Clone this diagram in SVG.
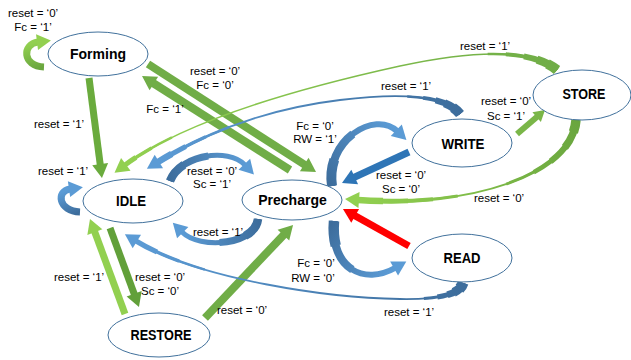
<svg xmlns="http://www.w3.org/2000/svg" width="631" height="360" viewBox="0 0 631 360">
<style>
.node ellipse{fill:#fff;stroke:#41719c;stroke-width:1}
.node text{font-family:"Liberation Sans",Arial,sans-serif;font-weight:bold;font-size:14px;text-anchor:middle;fill:#000}
.lbl{font-family:"Liberation Sans",Arial,sans-serif;font-size:11.5px;text-anchor:middle;fill:#000}
.ln{fill:none;stroke-linecap:butt}
</style>
<defs>
<marker id="mG" markerUnits="userSpaceOnUse" orient="auto" refX="0" refY="0" markerWidth="30" markerHeight="30" style="overflow:visible"><path d="M-1,-8 L13,0 L-1,8z" fill="#70ad47"/></marker>
<marker id="mGF" markerUnits="userSpaceOnUse" orient="auto" refX="0" refY="0" markerWidth="30" markerHeight="30" style="overflow:visible"><path d="M-1,-8 L13,0 L-1,8z" fill="#6aab3d"/></marker>
<marker id="mGL" markerUnits="userSpaceOnUse" orient="auto" refX="0" refY="0" markerWidth="30" markerHeight="30" style="overflow:visible"><path d="M-1,-8 L13,0 L-1,8z" fill="#92d050"/></marker>
<marker id="mGD" markerUnits="userSpaceOnUse" orient="auto" refX="0" refY="0" markerWidth="30" markerHeight="30" style="overflow:visible"><path d="M-1,-8 L13,0 L-1,8z" fill="#62a03a"/></marker>
<marker id="mGs" markerUnits="userSpaceOnUse" orient="auto" refX="0" refY="0" markerWidth="30" markerHeight="30" style="overflow:visible"><path d="M-1,-6.5 L10,0 L-1,6.5z" fill="#7ab648"/></marker>
<marker id="mBD" markerUnits="userSpaceOnUse" orient="auto" refX="0" refY="0" markerWidth="30" markerHeight="30" style="overflow:visible"><path d="M-1,-8 L13,0 L-1,8z" fill="#2e75b6"/></marker>
<marker id="mBL" markerUnits="userSpaceOnUse" orient="auto" refX="0" refY="0" markerWidth="30" markerHeight="30" style="overflow:visible"><path d="M-1,-8 L13,0 L-1,8z" fill="#5b9bd5"/></marker>
<marker id="mR" markerUnits="userSpaceOnUse" orient="auto" refX="0" refY="0" markerWidth="30" markerHeight="30" style="overflow:visible"><path d="M-1,-8 L13,0 L-1,8z" fill="#ff0000"/></marker>

<linearGradient id="gFS" gradientUnits="userSpaceOnUse" x1="44" y1="67" x2="38" y2="42"><stop offset="0" stop-color="#6aa63f"/><stop offset="1" stop-color="#92d050"/></linearGradient>
<linearGradient id="gIS" gradientUnits="userSpaceOnUse" x1="80" y1="212" x2="70" y2="189"><stop offset="0" stop-color="#3d6d9c"/><stop offset="1" stop-color="#5b9bd5"/></linearGradient>
<linearGradient id="gIP" gradientUnits="userSpaceOnUse" x1="170" y1="181" x2="245" y2="165"><stop offset="0" stop-color="#3d6d9c"/><stop offset="1" stop-color="#5b9bd5"/></linearGradient>
<linearGradient id="gPI" gradientUnits="userSpaceOnUse" x1="258" y1="219" x2="182" y2="232"><stop offset="0" stop-color="#3d6d9c"/><stop offset="1" stop-color="#5b9bd5"/></linearGradient>
<linearGradient id="gPW" gradientUnits="userSpaceOnUse" x1="332" y1="186" x2="397" y2="131"><stop offset="0" stop-color="#3d6d9c"/><stop offset="1" stop-color="#5b9bd5"/></linearGradient>
<linearGradient id="gPR" gradientUnits="userSpaceOnUse" x1="334" y1="221" x2="395" y2="268"><stop offset="0" stop-color="#3d6d9c"/><stop offset="1" stop-color="#5b9bd5"/></linearGradient>
<linearGradient id="gWI" gradientUnits="userSpaceOnUse" x1="460" y1="114" x2="158" y2="162"><stop offset="0" stop-color="#3d6d9c"/><stop offset="1" stop-color="#5b9bd5"/></linearGradient>
<linearGradient id="gRI" gradientUnits="userSpaceOnUse" x1="463" y1="283" x2="136" y2="241"><stop offset="0" stop-color="#3d6d9c"/><stop offset="1" stop-color="#5b9bd5"/></linearGradient>
<linearGradient id="gSP" gradientUnits="userSpaceOnUse" x1="576" y1="120" x2="358" y2="200"><stop offset="0" stop-color="#6aa63f"/><stop offset="1" stop-color="#92d050"/></linearGradient>
<linearGradient id="gSI" gradientUnits="userSpaceOnUse" x1="557" y1="70" x2="125" y2="165"><stop offset="0" stop-color="#70ad47"/><stop offset="1" stop-color="#92d050"/></linearGradient>
</defs>
<rect width="631" height="360" fill="#fff"/>

<g id="connectors">
<!-- straight block arrows -->
<path class="ln" d="M89,78 L100.3,165.1" stroke="#6aab3d" stroke-width="7" marker-end="url(#mGF)"/>
<path class="ln" d="M148,64 L305.1,165" stroke="#70ad47" stroke-width="8" marker-end="url(#mG)"/>
<path class="ln" d="M290,170 L153,83" stroke="#70ad47" stroke-width="8" marker-end="url(#mG)"/>
<path class="ln" d="M409,152 L353.8,177.5" stroke="#2e75b6" stroke-width="7" marker-end="url(#mBD)"/>
<path class="ln" d="M517,134 L537.4,116.5" stroke="#7ab648" stroke-width="6" marker-end="url(#mGs)"/>
<path class="ln" d="M409,246 L354.3,215.4" stroke="#ff0000" stroke-width="7" marker-end="url(#mR)"/>
<path class="ln" d="M110,228 L134.5,294.8" stroke="#62a03a" stroke-width="7" marker-end="url(#mGD)"/>
<path class="ln" d="M125,314 L94.5,231.2" stroke="#92d050" stroke-width="7" marker-end="url(#mGL)"/>
<path class="ln" d="M205,318 L284.1,234.4" stroke="#70ad47" stroke-width="8" marker-end="url(#mG)"/>

<!-- self loops -->
<path class="ln" d="M44,67 C22,66 22,44 38,42" stroke="url(#gFS)" stroke-width="7" marker-end="url(#mGL)"/>
<path class="ln" d="M80,212 C58,211 56,191 70,189" stroke="url(#gIS)" stroke-width="7" marker-end="url(#mBL)"/>

<!-- curved bands -->
<path class="ln" d="M170,181 C180,155 228,147 245,165" stroke="url(#gIP)" stroke-width="5" marker-end="url(#mBL)"/>
<path class="ln" d="M170,181 C180,155 228,147 245,165" pathLength="100" stroke="url(#gIP)" stroke-width="7" stroke-dasharray="55 200"/>
<path class="ln" d="M170,181 C180,155 228,147 245,165" pathLength="100" stroke="url(#gIP)" stroke-width="8.5" stroke-dasharray="25 200"/>

<path class="ln" d="M258,219 C255,245 200,250 182,232" stroke="url(#gPI)" stroke-width="5" marker-end="url(#mBL)"/>
<path class="ln" d="M258,219 C255,245 200,250 182,232" pathLength="100" stroke="url(#gPI)" stroke-width="7" stroke-dasharray="55 200"/>
<path class="ln" d="M258,219 C255,245 200,250 182,232" pathLength="100" stroke="url(#gPI)" stroke-width="8.5" stroke-dasharray="25 200"/>

<path class="ln" d="M332,186 C325,140 375,110 397,131" stroke="url(#gPW)" stroke-width="6" marker-end="url(#mBL)"/>
<path class="ln" d="M332,186 C325,140 375,110 397,131" pathLength="100" stroke="url(#gPW)" stroke-width="8" stroke-dasharray="55 200"/>
<path class="ln" d="M332,186 C325,140 375,110 397,131" pathLength="100" stroke="url(#gPW)" stroke-width="10" stroke-dasharray="25 200"/>

<path class="ln" d="M334,221 C330,270 365,285 395,268" stroke="url(#gPR)" stroke-width="6" marker-end="url(#mBL)"/>
<path class="ln" d="M334,221 C330,270 365,285 395,268" pathLength="100" stroke="url(#gPR)" stroke-width="8" stroke-dasharray="55 200"/>
<path class="ln" d="M334,221 C330,270 365,285 395,268" pathLength="100" stroke="url(#gPR)" stroke-width="10.5" stroke-dasharray="25 200"/>

<!-- STORE -> Precharge -->
<g stroke="url(#gSP)" fill="none">
<path d="M576,120 C572,175 470,208 358,200" stroke-width="2" marker-end="url(#mGL)"/>
<path d="M576,120 C572,175 470,208 358,200" pathLength="100" stroke-width="3" stroke-dasharray="40 200"/>
<path d="M576,120 C572,175 470,208 358,200" pathLength="100" stroke-width="4.5" stroke-dasharray="28 200"/>
<path d="M576,120 C572,175 470,208 358,200" pathLength="100" stroke-width="6" stroke-dasharray="20 200"/>
<path d="M576,120 C572,175 470,208 358,200" pathLength="100" stroke-width="7.5" stroke-dasharray="12 200"/>
<path d="M576,120 C572,175 470,208 358,200" pathLength="100" stroke-width="9.5" stroke-dasharray="5 200"/>
<path d="M576,120 C572,175 470,208 358,200" pathLength="100" stroke-width="3" stroke-dasharray="0 60 40 0"/>
<path d="M576,120 C572,175 470,208 358,200" pathLength="100" stroke-width="4" stroke-dasharray="0 70 30 0"/>
<path d="M576,120 C572,175 470,208 358,200" pathLength="100" stroke-width="5" stroke-dasharray="0 80 20 0"/>
<path d="M576,120 C572,175 470,208 358,200" pathLength="100" stroke-width="6.5" stroke-dasharray="0 90 10 0"/>
</g>

<!-- STORE -> IDLE -->
<g stroke="url(#gSI)" fill="none">
<path d="M557,70 Q520,40 400,66 Q200,110 125,165" stroke-width="1.6" marker-end="url(#mGL)"/>
<path d="M557,70 Q520,40 400,66 Q200,110 125,165" pathLength="100" stroke-width="2.5" stroke-dasharray="16 200"/>
<path d="M557,70 Q520,40 400,66 Q200,110 125,165" pathLength="100" stroke-width="4" stroke-dasharray="12 200"/>
<path d="M557,70 Q520,40 400,66 Q200,110 125,165" pathLength="100" stroke-width="6" stroke-dasharray="8 200"/>
<path d="M557,70 Q520,40 400,66 Q200,110 125,165" pathLength="100" stroke-width="8" stroke-dasharray="5 200"/>
<path d="M557,70 Q520,40 400,66 Q200,110 125,165" pathLength="100" stroke-width="10" stroke-dasharray="2.5 200"/>
<path d="M557,70 Q520,40 400,66 Q200,110 125,165" pathLength="100" stroke-width="2.5" stroke-dasharray="0 88 12 0"/>
<path d="M557,70 Q520,40 400,66 Q200,110 125,165" pathLength="100" stroke-width="3.5" stroke-dasharray="0 93 7 0"/>
<path d="M557,70 Q520,40 400,66 Q200,110 125,165" pathLength="100" stroke-width="5" stroke-dasharray="0 97 3 0"/>
</g>

<!-- WRITE -> IDLE -->
<g stroke="url(#gWI)" fill="none">
<path d="M460,114 Q440,88 340,100 Q240,112 158,162" stroke-width="1.8" marker-end="url(#mBL)"/>
<path d="M460,114 Q440,88 340,100 Q240,112 158,162" pathLength="100" stroke-width="2.5" stroke-dasharray="18 200"/>
<path d="M460,114 Q440,88 340,100 Q240,112 158,162" pathLength="100" stroke-width="4" stroke-dasharray="13 200"/>
<path d="M460,114 Q440,88 340,100 Q240,112 158,162" pathLength="100" stroke-width="6" stroke-dasharray="9 200"/>
<path d="M460,114 Q440,88 340,100 Q240,112 158,162" pathLength="100" stroke-width="8" stroke-dasharray="6 200"/>
<path d="M460,114 Q440,88 340,100 Q240,112 158,162" pathLength="100" stroke-width="10" stroke-dasharray="3 200"/>
<path d="M460,114 Q440,88 340,100 Q240,112 158,162" pathLength="100" stroke-width="2.5" stroke-dasharray="0 75 25 0"/>
<path d="M460,114 Q440,88 340,100 Q240,112 158,162" pathLength="100" stroke-width="3.5" stroke-dasharray="0 83 17 0"/>
<path d="M460,114 Q440,88 340,100 Q240,112 158,162" pathLength="100" stroke-width="5" stroke-dasharray="0 90 10 0"/>
<path d="M460,114 Q440,88 340,100 Q240,112 158,162" pathLength="100" stroke-width="6.5" stroke-dasharray="0 95 5 0"/>
</g>

<!-- READ -> IDLE -->
<g stroke="url(#gRI)" fill="none">
<path d="M463,283 Q458,300 400,299 C330,298 200,280 136,241" stroke-width="1.8" marker-end="url(#mBL)"/>
<path d="M463,283 Q458,300 400,299 C330,298 200,280 136,241" pathLength="100" stroke-width="3" stroke-dasharray="13 200"/>
<path d="M463,283 Q458,300 400,299 C330,298 200,280 136,241" pathLength="100" stroke-width="5" stroke-dasharray="9 200"/>
<path d="M463,283 Q458,300 400,299 C330,298 200,280 136,241" pathLength="100" stroke-width="7" stroke-dasharray="6 200"/>
<path d="M463,283 Q458,300 400,299 C330,298 200,280 136,241" pathLength="100" stroke-width="9" stroke-dasharray="4 200"/>
<path d="M463,283 Q458,300 400,299 C330,298 200,280 136,241" pathLength="100" stroke-width="11" stroke-dasharray="2 200"/>
<path d="M463,283 Q458,300 400,299 C330,298 200,280 136,241" pathLength="100" stroke-width="2.5" stroke-dasharray="0 78 22 0"/>
<path d="M463,283 Q458,300 400,299 C330,298 200,280 136,241" pathLength="100" stroke-width="3.5" stroke-dasharray="0 86 14 0"/>
<path d="M463,283 Q458,300 400,299 C330,298 200,280 136,241" pathLength="100" stroke-width="5" stroke-dasharray="0 93 7 0"/>
</g>
</g>

<g id="node-forming" class="node"><ellipse cx="98" cy="54" rx="50" ry="22"/><text x="98" y="58.5">Forming</text></g>
<g id="node-idle" class="node"><ellipse cx="133" cy="201" rx="50" ry="22"/><text x="131" y="205.5" textLength="30" lengthAdjust="spacingAndGlyphs">IDLE</text></g>
<g id="node-precharge" class="node"><ellipse cx="292" cy="200" rx="50" ry="20"/><text x="292.5" y="205">Precharge</text></g>
<g id="node-write" class="node"><ellipse cx="462" cy="143" rx="50" ry="24"/><text x="463" y="149" textLength="43" lengthAdjust="spacingAndGlyphs">WRITE</text></g>
<g id="node-store" class="node"><ellipse cx="582" cy="95" rx="49" ry="25"/><text x="584" y="99" textLength="43" lengthAdjust="spacingAndGlyphs">STORE</text></g>
<g id="node-read" class="node"><ellipse cx="462" cy="258" rx="50" ry="24"/><text x="462" y="263" textLength="37" lengthAdjust="spacingAndGlyphs">READ</text></g>
<g id="node-restore" class="node"><ellipse cx="159" cy="335" rx="51" ry="22"/><text x="161" y="340" textLength="61" lengthAdjust="spacingAndGlyphs">RESTORE</text></g>

<g id="labels">
<text class="lbl" x="33" y="17">reset = ‘0’</text>
<text class="lbl" x="33" y="31">Fc = ‘1’</text>
<text class="lbl" x="215" y="75">reset = ‘0’</text>
<text class="lbl" x="215" y="89">Fc = ‘0’</text>
<text class="lbl" x="165" y="113">Fc = ‘1’</text>
<text class="lbl" x="59" y="128">reset = ‘1’</text>
<text class="lbl" x="63" y="175">reset = ‘1’</text>
<text class="lbl" x="485" y="50">reset = ‘1’</text>
<text class="lbl" x="406" y="90">reset = ‘1’</text>
<text class="lbl" x="506" y="105">reset = ‘0’</text>
<text class="lbl" x="506" y="120">Sc = ‘1’</text>
<text class="lbl" x="315" y="130">Fc = ‘0’</text>
<text class="lbl" x="315" y="143">RW = ‘1’</text>
<text class="lbl" x="401" y="179">reset = ‘0’</text>
<text class="lbl" x="401" y="193">Sc = ‘0’</text>
<text class="lbl" x="499" y="202">reset = ‘0’</text>
<text class="lbl" x="212" y="175">reset = ‘0’</text>
<text class="lbl" x="212" y="188">Sc = ‘1’</text>
<text class="lbl" x="218" y="236">reset = ‘1’</text>
<text class="lbl" x="316" y="267">Fc = ‘0’</text>
<text class="lbl" x="313" y="282">RW = ‘0’</text>
<text class="lbl" x="409" y="316">reset = ‘1’</text>
<text class="lbl" x="160" y="281">reset = ‘0’</text>
<text class="lbl" x="160" y="295">Sc = ‘0’</text>
<text class="lbl" x="79" y="281">reset = ‘1’</text>
<text class="lbl" x="242" y="314">reset = ‘0’</text>
</g>
</svg>
